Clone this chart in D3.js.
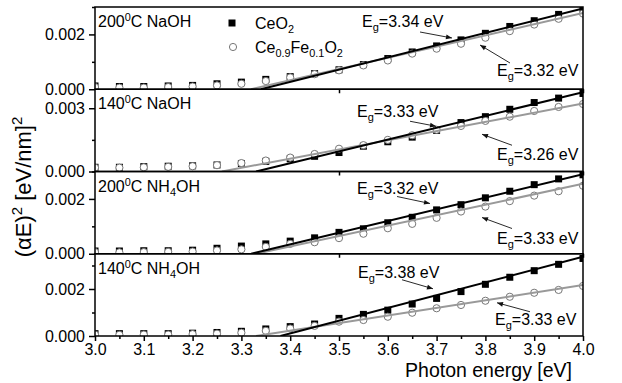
<!DOCTYPE html>
<html>
<head>
<meta charset="utf-8">
<script src="https://cdn.jsdelivr.net/npm/d3@7"></script>
<style>
  body { margin: 0; background: #fff; }
  svg { display: block; font-family: "Liberation Sans", Arial, sans-serif; }
</style>
</head>
<body>
<svg id="chart" width="622" height="383"></svg>
<script>
// photon energy [eV]
const energy = [3.00, 3.05, 3.10, 3.15, 3.20, 3.25, 3.30, 3.35, 3.40, 3.45, 3.50,
                3.55, 3.60, 3.65, 3.70, 3.75, 3.80, 3.85, 3.90, 3.95, 4.00];

const panelNames = ['200|C NaOH', '140|C NaOH', '200|C NH4OH', '140|C NH4OH'];

// (alpha E)^2, CeO2 (filled squares)
const ceo2 = [
  [0.00012, 0.00010, 0.00010, 0.00012, 0.00014, 0.00020, 0.00026, 0.00036, 0.00046, 0.00057, 0.00071,
   0.00090, 0.00112, 0.00136, 0.00158, 0.00180, 0.00204, 0.00229, 0.00250, 0.00273, 0.00295],
  [0.00020, 0.00020, 0.00023, 0.00025, 0.00027, 0.00031, 0.00038, 0.00048, 0.00060, 0.00072, 0.00090,
   0.00120, 0.00141, 0.00163, 0.00195, 0.00232, 0.00260, 0.00295, 0.00327, 0.00348, 0.00370],
  [0.00010, 0.00010, 0.00011, 0.00011, 0.00013, 0.00020, 0.00028, 0.00036, 0.00046, 0.00058, 0.00078,
   0.00091, 0.00113, 0.00133, 0.00160, 0.00179, 0.00204, 0.00228, 0.00252, 0.00273, 0.00288],
  [0.00010, 0.00010, 0.00010, 0.00010, 0.00012, 0.00015, 0.00020, 0.00030, 0.00040, 0.00051, 0.00075,
   0.00092, 0.00110, 0.00136, 0.00160, 0.00189, 0.00220, 0.00250, 0.00278, 0.00305, 0.00330]
];

// (alpha E)^2, Ce0.9Fe0.1O2 (open circles)
const cefe = [
  [0.00008, 0.00006, 0.00006, 0.00008, 0.00010, 0.00014, 0.00020, 0.00030, 0.00043, 0.00055, 0.00069,
   0.00087, 0.00105, 0.00130, 0.00148, 0.00166, 0.00188, 0.00212, 0.00236, 0.00257, 0.00276],
  [0.00018, 0.00018, 0.00020, 0.00022, 0.00025, 0.00030, 0.00040, 0.00052, 0.00066, 0.00083, 0.00108,
   0.00125, 0.00150, 0.00172, 0.00198, 0.00216, 0.00240, 0.00260, 0.00287, 0.00306, 0.00320],
  [0.00006, 0.00005, 0.00006, 0.00007, 0.00008, 0.00012, 0.00016, 0.00025, 0.00036, 0.00042, 0.00057,
   0.00073, 0.00093, 0.00109, 0.00131, 0.00154, 0.00172, 0.00192, 0.00212, 0.00228, 0.00248],
  [0.00006, 0.00005, 0.00006, 0.00006, 0.00008, 0.00010, 0.00014, 0.00022, 0.00032, 0.00043, 0.00061,
   0.00068, 0.00082, 0.00099, 0.00118, 0.00132, 0.00150, 0.00167, 0.00184, 0.00196, 0.00213]
];

// linear fits: band gap (x intercept) and value at 4.0 eV
const ceo2Eg = [3.34, 3.33, 3.32, 3.38];
const ceo2FitEnd = [0.00295, 0.00376, 0.00290, 0.00337];
const cefeEg = [3.32, 3.26, 3.33, 3.33];
const cefeFitEnd = [0.00278, 0.00322, 0.00255, 0.00217];

// y axis per panel
const yMax = [0.003, 0.0039, 0.003, 0.0035];
const yMajor = [[0, 0.002], [0, 0.003], [0, 0.002], [0, 0.002]];
const yMinor = [[0.001, 0.003], [0.0015], [0.001, 0.003], [0.001, 0.003]];
const xTicks = [3.0, 3.1, 3.2, 3.3, 3.4, 3.5, 3.6, 3.7, 3.8, 3.9, 4.0];
const xMinor = [3.05, 3.15, 3.25, 3.35, 3.45, 3.55, 3.65, 3.75, 3.85, 3.95];

// ---- layout
const plotLeft = 95, plotRight = 583, plotTop = 7, panelH = 82.25;
const svg = d3.select('#chart');
const x = d3.scaleLinear().domain([3.0, 4.0]).range([plotLeft, plotRight]);
const fmt = d3.format('.3f');
const FONT = '"Liberation Sans", Arial, sans-serif';

// arrow head
svg.append('defs').append('marker')
    .attr('id', 'head').attr('viewBox', '0 0 10 10')
    .attr('refX', 10).attr('refY', 5)
    .attr('markerWidth', 7).attr('markerHeight', 6)
    .attr('markerUnits', 'userSpaceOnUse')
    .attr('orient', 'auto')
  .append('path').attr('d', 'M0,1 L10,5 L0,9 Z').attr('fill', '#111');

// label offsets (px) inside each panel: [text x, baseline dy, arrow x1,y1,x2,y2]
const noteUpper = [
  [362, 20, 420, 25, 452, 31],
  [357, 28, 410, 32, 436, 37],
  [357, 22, 397, 25, 430, 32],
  [358, 24, 402, 26, 433, 35]
];
const noteLower = [
  [497, 69, 510, 56, 480, 38],
  [497, 71, 512, 56, 482, 45],
  [497, 72, 512, 57, 482, 46],
  [495, 71, 530, 58, 497, 49]
];

function addEg(g, xp, yp, val) {
  const t = g.append('text').attr('x', xp).attr('y', yp).attr('font-size', 16);
  t.append('tspan').text('E');
  t.append('tspan').attr('dy', 4).attr('font-size', 11).text('g');
  t.append('tspan').attr('dy', -4).text('=' + val.toFixed(2) + ' eV');
}

function addSubText(g, xp, yp, parts, size) {
  // parts: [text, shift] shift>0 subscript, <0 superscript
  const t = g.append('text').attr('x', xp).attr('y', yp).attr('font-size', size);
  let cur = 0;
  parts.forEach(([s, sh]) => {
    t.append('tspan').attr('dy', sh - cur)
      .attr('font-size', sh === 0 ? size : size * 0.68).text(s);
    cur = sh;
  });
  return t;
}

panelNames.forEach((name, i) => {
  const y0 = plotTop + i * panelH, y1 = y0 + panelH;
  const y = d3.scaleLinear().domain([0, yMax[i]]).range([y1, y0]);
  const g = svg.append('g');

  g.append('clipPath').attr('id', 'clip' + i)
    .append('rect').attr('x', plotLeft).attr('y', y0).attr('width', plotRight - plotLeft).attr('height', panelH);
  const plot = g.append('g').attr('clip-path', `url(#clip${i})`);

  // markers
  plot.selectAll('rect.sq').data(energy).enter().append('rect')
    .attr('x', (d) => x(d) - 3.5)
    .attr('y', (d, j) => y(ceo2[i][j]) - 3.5)
    .attr('width', 7).attr('height', 7).attr('fill', '#000');
  plot.selectAll('circle').data(energy).enter().append('circle')
    .attr('cx', d => x(d))
    .attr('cy', (d, j) => y(cefe[i][j]))
    .attr('r', 3.6).attr('fill', '#fff').attr('stroke', '#777').attr('stroke-width', 1);

  // fits
  const line = d3.line().x(d => x(d[0])).y(d => y(d[1]));
  plot.append('path').attr('d', line([[cefeEg[i], 0], [4.0, cefeFitEnd[i]]]))
    .attr('stroke', '#999').attr('stroke-width', 2).attr('fill', 'none');
  plot.append('path').attr('d', line([[ceo2Eg[i], 0], [4.0, ceo2FitEnd[i]]]))
    .attr('stroke', '#000').attr('stroke-width', 2).attr('fill', 'none');

  // frame
  g.append('rect').attr('x', plotLeft).attr('y', y0).attr('width', plotRight - plotLeft).attr('height', panelH)
    .attr('fill', 'none').attr('stroke', '#000').attr('stroke-width', 1.5);

  // y ticks
  const yAxis = d3.axisLeft(y).tickValues(yMajor[i]).tickFormat(fmt).tickSize(6).tickSizeOuter(0);
  const ya = g.append('g').attr('transform', `translate(${plotLeft},0)`).call(yAxis);
  ya.select('.domain').remove();
  ya.selectAll('line').attr('stroke-width', 1.5);
  ya.selectAll('text').attr('font-size', 16).attr('font-family', FONT)
    .attr('fill', '#000').attr('x', -10);
  const yMin = d3.axisLeft(y).tickValues(yMinor[i]).tickFormat('').tickSize(3).tickSizeOuter(0);
  const ym = g.append('g').attr('transform', `translate(${plotLeft},0)`).call(yMin);
  ym.select('.domain').remove();
  ym.selectAll('line').attr('stroke-width', 1.5);

  // x ticks
  if (i < 3) {
    const xa = g.append('g').attr('transform', `translate(0,${y1})`)
      .call(d3.axisBottom(x).tickValues([3.5, 4.0]).tickFormat('').tickSize(4).tickSizeOuter(0));
    xa.select('.domain').remove();
    xa.selectAll('line').attr('stroke-width', 1.5);
  } else {
    const xa = g.append('g').attr('transform', `translate(0,${y1})`)
      .call(d3.axisBottom(x).tickValues(xTicks).tickFormat(d3.format('.1f')).tickSize(5).tickSizeOuter(0));
    xa.select('.domain').remove();
    xa.selectAll('line').attr('stroke-width', 1.5);
    xa.selectAll('text').attr('font-size', 16).attr('font-family', FONT)
      .attr('fill', '#000').attr('y', 7).attr('dy', '0.76em');
    const xm = g.append('g').attr('transform', `translate(0,${y1})`)
      .call(d3.axisBottom(x).tickValues(xMinor).tickFormat('').tickSize(3).tickSizeOuter(0));
    xm.select('.domain').remove();
    xm.selectAll('line').attr('stroke-width', 1.5);
  }

  // panel name: "200|C NaOH" -> superscript 0 before C, subscript 4 in NH4OH
  const [temp, rest] = name.split('|');
  const parts = [[temp, 0], ['0', -6], [rest.replace('NH4OH', 'NH'), 0]];
  if (rest.includes('NH4OH')) { parts.push(['4', 4]); parts.push(['OH', 0]); }
  addSubText(g, 98, y0 + 20, parts, 16);

  // band gap notes
  const u = noteUpper[i], l = noteLower[i];
  addEg(g, u[0], y0 + u[1], ceo2Eg[i]);
  g.append('line').attr('x1', u[2]).attr('y1', y0 + u[3]).attr('x2', u[4]).attr('y2', y0 + u[5])
    .attr('stroke', '#111').attr('stroke-width', 0.9).attr('marker-end', 'url(#head)');
  addEg(g, l[0], y0 + l[1], cefeEg[i]);
  g.append('line').attr('x1', l[2]).attr('y1', y0 + l[3]).attr('x2', l[4]).attr('y2', y0 + l[5])
    .attr('stroke', '#111').attr('stroke-width', 0.9).attr('marker-end', 'url(#head)');
});

// legend
const lg = svg.append('g');
lg.append('rect').attr('x', 228.5).attr('y', 19.5).attr('width', 7).attr('height', 7).attr('fill', '#000');
addSubText(lg, 255, 29, [['CeO', 0], ['2', 4]], 16);
lg.append('circle').attr('cx', 233).attr('cy', 47).attr('r', 3.6)
  .attr('fill', '#fff').attr('stroke', '#777');
addSubText(lg, 255, 53, [['Ce', 0], ['0.9', 4], ['Fe', 0], ['0.1', 4], ['O', 0], ['2', 4]], 16);

// axis titles
svg.append('text').attr('x', 572).attr('y', 377).attr('text-anchor', 'end')
  .attr('font-size', 19.5).text('Photon energy [eV]');
const yt = svg.append('text').attr('transform', 'translate(31,187) rotate(-90)')
  .attr('text-anchor', 'middle').attr('font-size', 22);
yt.append('tspan').text('(\u03b1E)');
yt.append('tspan').attr('dy', -9).attr('font-size', 15).text('2');
yt.append('tspan').attr('dy', 9).text(' [eV/nm]');
yt.append('tspan').attr('dy', -9).attr('font-size', 15).text('2');
</script>
</body>
</html>
